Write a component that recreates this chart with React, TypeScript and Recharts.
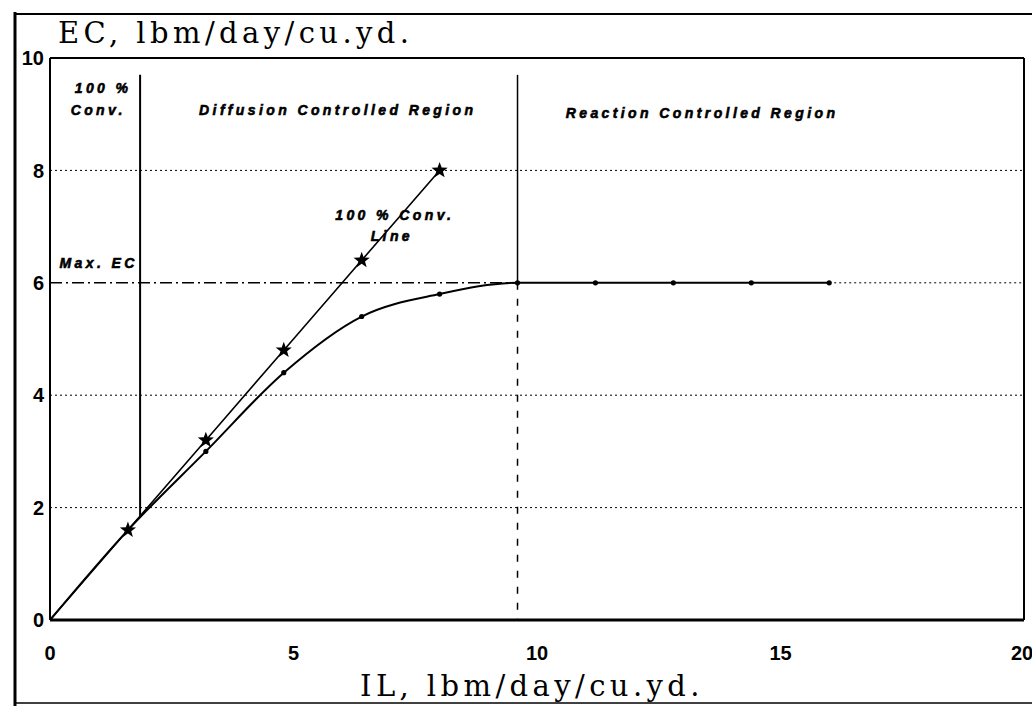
import { LineChart, Line, XAxis, YAxis, ReferenceLine, ReferenceDot } from 'recharts';

// 100 % conversion line (EC = IL), star markers
const convIL = [0, 1.6, 3.2, 4.8, 6.4, 8.0];
const convEC = [0, 1.6, 3.2, 4.8, 6.4, 8.0];

// measured elimination capacity curve
const curveIL = [0, 1.6, 3.2, 4.8, 6.4, 8.0, 9.6, 11.2, 12.8, 14.4, 16.0];
const curveEC = [0, 1.6, 3.0, 4.4, 5.4, 5.8, 6.0, 6.0, 6.0, 6.0, 6.0];

const xTicks = [0, 5, 10, 15, 20];
const yTicks = [0, 2, 4, 6, 8, 10];
const gridLevels = [2, 4, 8];

const maxEC = 6;
const convBoundary = 1.85;
const reactionBoundary = 9.6;

const annotations = [
    { text: '100 %', x: 1.09, y: 9.47 },
    { text: 'Conv.', x: 0.99, y: 9.07 },
    { text: 'Diffusion Controlled Region', x: 5.91, y: 9.07 },
    { text: 'Reaction Controlled Region', x: 13.39, y: 9.03 },
    { text: '100 % Conv.', x: 7.08, y: 7.2 },
    { text: 'Line', x: 7.02, y: 6.84 },
    { text: 'Max. EC', x: 1.0, y: 6.35 },
];

const convData = convIL.map((x, i) => ({ x, y: convEC[i] }));
const curveData = curveIL.map((x, i) => ({ x, y: curveEC[i] }));

const StarDot = (props: any) => {
    const { cx, cy, index } = props;
    if (index === 0 || cx == null) return <g key={`s${index}`} />;
    const pts: string[] = [];
    for (let k = 0; k < 10; k++) {
        const r = k % 2 === 0 ? 8.5 : 3.5;
        const a = -Math.PI / 2 + (k * Math.PI) / 5;
        pts.push(`${cx + r * Math.cos(a)},${cy + r * Math.sin(a)}`);
    }
    return <polygon key={`s${index}`} points={pts.join(' ')} fill="#000" />;
};

const SmallDot = (props: any) => {
    const { cx, cy, index } = props;
    if (index === 0 || cx == null) return <g key={`d${index}`} />;
    return <circle key={`d${index}`} cx={cx} cy={cy} r={2.6} fill="#000" />;
};

const annStyle = {
    fontFamily: '"Liberation Sans", Arial, sans-serif',
    fontWeight: 900,
    fontStyle: 'italic',
    fontSize: 14,
    letterSpacing: 3.4,
};

const tickStyle = { fontFamily: '"Liberation Sans", Arial, sans-serif', fontWeight: 700, fontSize: 20, fill: '#000' };

export default function App() {
    return (
        <div style={{ position: 'absolute', left: 0, top: 0, width: 1032, height: 706, overflow: 'hidden', background: '#fff' }}>
            <LineChart width={1032} height={706} margin={{ top: 58, right: 8, left: 14, bottom: 46 }}>
                <XAxis
                    dataKey="x"
                    type="number"
                    domain={[0, 20]}
                    ticks={xTicks}
                    tickSize={0}
                    tickMargin={26}
                    height={40}
                    tick={tickStyle}
                    axisLine={{ stroke: '#000', strokeWidth: 3 }}
                />
                <YAxis
                    type="number"
                    domain={[0, 10]}
                    ticks={yTicks}
                    tickSize={0}
                    tickMargin={6}
                    width={36}
                    tick={tickStyle}
                    axisLine={{ stroke: '#000', strokeWidth: 2 }}
                />
                {/* plot frame */}
                <ReferenceLine y={10} stroke="#000" strokeWidth={2} />
                <ReferenceLine x={20} stroke="#000" strokeWidth={2} />
                {/* dotted grid */}
                {gridLevels.map((g) => (
                    <ReferenceLine key={g} y={g} stroke="#000" strokeWidth={1} strokeDasharray="2 3" />
                ))}
                <ReferenceLine segment={[{ x: 16, y: maxEC }, { x: 20, y: maxEC }]} stroke="#000" strokeWidth={1} strokeDasharray="2 3" />
                {/* Max. EC dash-dot line */}
                <ReferenceLine segment={[{ x: 0, y: maxEC }, { x: reactionBoundary, y: maxEC }]} stroke="#000" strokeWidth={1.5} strokeDasharray="12 4 2 4" />
                {/* region boundaries */}
                <ReferenceLine segment={[{ x: convBoundary, y: 9.7 }, { x: convBoundary, y: convBoundary }]} stroke="#000" strokeWidth={2} />
                <ReferenceLine segment={[{ x: reactionBoundary, y: 9.7 }, { x: reactionBoundary, y: maxEC }]} stroke="#000" strokeWidth={1.5} />
                <ReferenceLine segment={[{ x: reactionBoundary, y: maxEC }, { x: reactionBoundary, y: 0 }]} stroke="#000" strokeWidth={1.5} strokeDasharray="7 9" />
                <Line
                    data={curveData}
                    dataKey="y"
                    type="monotone"
                    stroke="#000"
                    strokeWidth={2}
                    dot={SmallDot}
                    isAnimationActive={false}
                />
                <Line
                    data={convData}
                    dataKey="y"
                    type="linear"
                    stroke="#000"
                    strokeWidth={1.6}
                    dot={StarDot}
                    isAnimationActive={false}
                />
                {annotations.map((a) => (
                    <ReferenceDot
                        key={a.text}
                        x={a.x}
                        y={a.y}
                        r={0}
                        shape={(p: any) => (
                            <text
                                x={p.cx}
                                y={p.cy}
                                textAnchor="middle"
                                dominantBaseline="central"
                                fill="#000"
                                stroke="#000"
                                strokeWidth={0.6}
                                style={annStyle}
                            >
                                {a.text}
                            </text>
                        )}
                    />
                ))}
            </LineChart>
            <svg width={1032} height={706} style={{ position: 'absolute', left: 0, top: 0, pointerEvents: 'none' }}>
                <line x1={15} y1={12} x2={15} y2={706} stroke="#000" strokeWidth={3} />
                <line x1={14} y1={14} x2={1032} y2={14} stroke="#000" strokeWidth={2} />
                <line x1={14} y1={703} x2={1032} y2={703} stroke="#000" strokeWidth={1.5} />
                <text x={58} y={43} fontFamily='"DejaVu Serif", serif' fontSize={29} letterSpacing={4.4} fill="#000">
                    EC, lbm/day/cu.yd.
                </text>
                <text x={532} y={696} textAnchor="middle" fontFamily='"DejaVu Serif", serif' fontSize={29} letterSpacing={4.4} fill="#000">
                    IL, lbm/day/cu.yd.
                </text>
            </svg>
        </div>
    );
}
